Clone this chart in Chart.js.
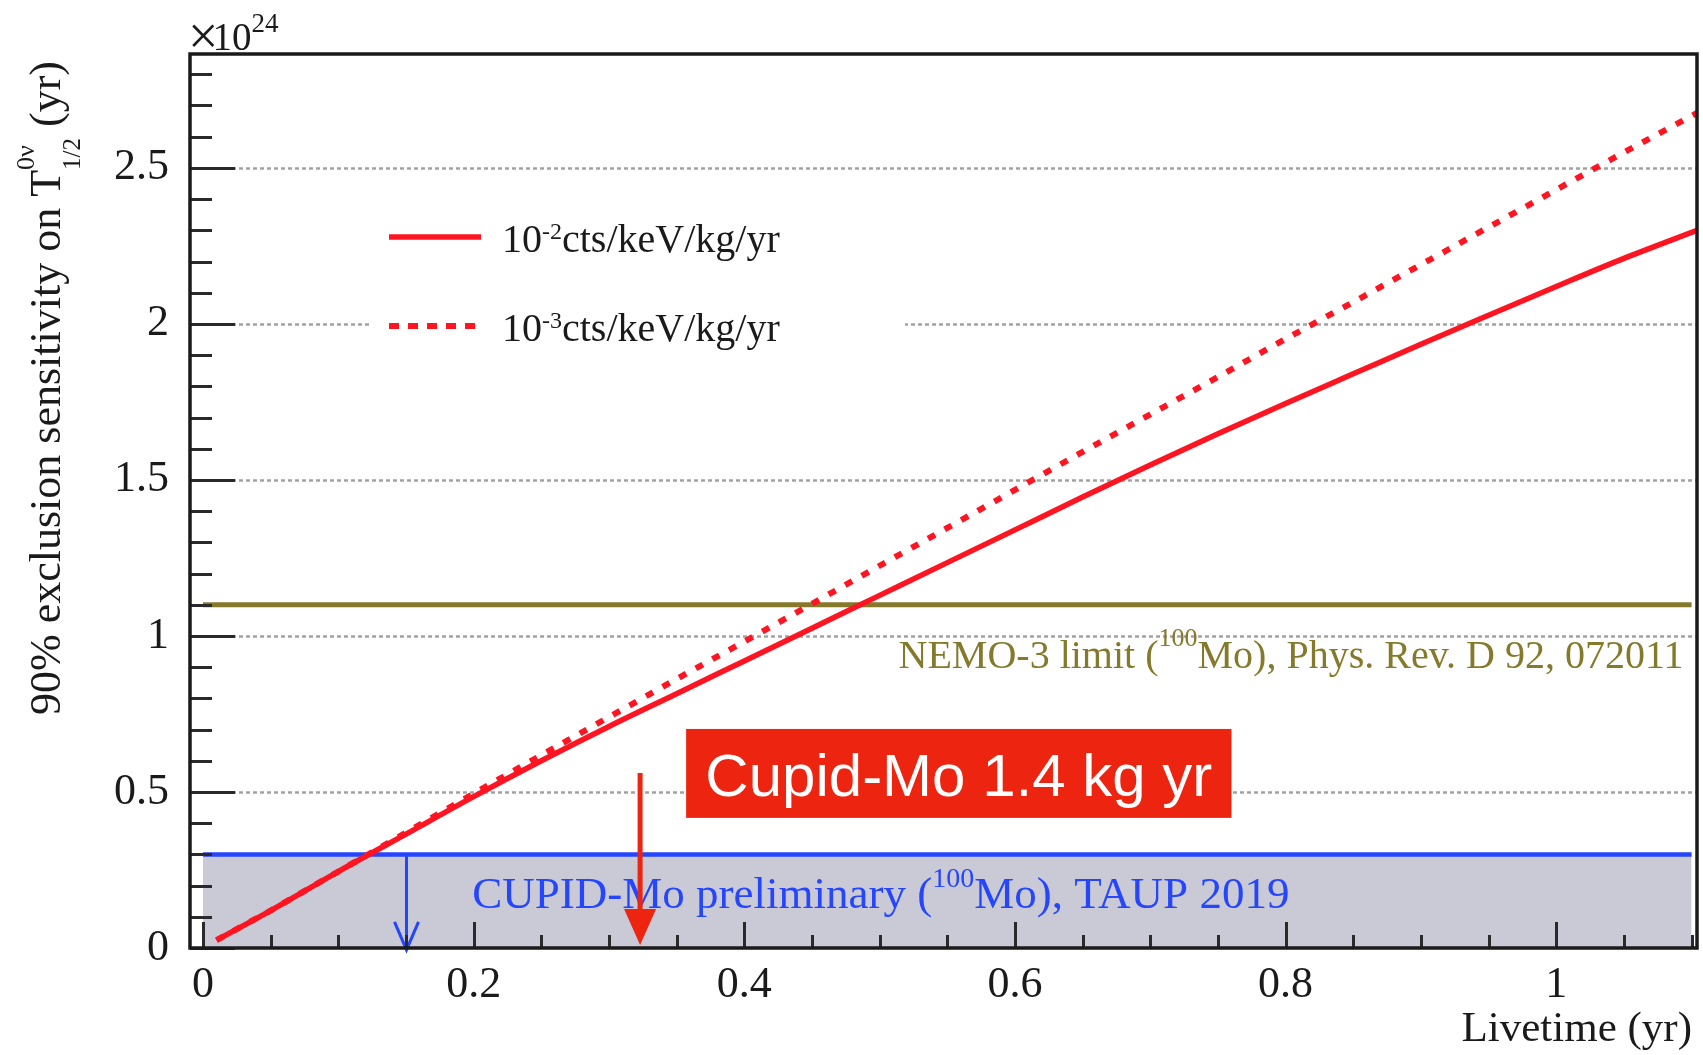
<!DOCTYPE html>
<html>
<head>
<meta charset="utf-8">
<script src="https://cdn.jsdelivr.net/npm/chart.js@4.4.0/dist/chart.umd.min.js"></script>
<style>
  html, body { margin: 0; padding: 0; background: #fff; overflow: hidden; }
  canvas { display: block; }
</style>
</head>
<body>
<canvas id="c" width="1703" height="1055"></canvas>
<script>
// Livetime (yr) and projected 90% C.L. half-life sensitivity (in units of 1e24 yr)
const livetime   = [0.01, 0.05, 0.10, 0.15, 0.20, 0.25, 0.30, 0.35, 0.40, 0.45, 0.50, 0.55,
                    0.60, 0.65, 0.70, 0.75, 0.80, 0.85, 0.90, 0.95, 1.00, 1.05, 1.104];
const sensBkgE2  = [0.025, 0.12, 0.245, 0.365, 0.485, 0.600, 0.710, 0.815, 0.920, 1.025, 1.130, 1.235,
                    1.340, 1.445, 1.548, 1.648, 1.745, 1.840, 1.935, 2.028, 2.120, 2.210, 2.300];
const sensBkgE3  = [0.025, 0.12, 0.245, 0.370, 0.495, 0.618, 0.740, 0.862, 0.982, 1.103, 1.225, 1.346,
                    1.468, 1.590, 1.710, 1.830, 1.952, 2.070, 2.190, 2.310, 2.430, 2.550, 2.676];

// Existing limits (1e24 yr) and the livetime span they are drawn over
const nemoLimit  = 1.1;
const cupidLimit = 0.3;
const limitSpan  = [0, 1.1];

// Axes
const xTickValues = [0, 0.2, 0.4, 0.6, 0.8, 1];
const yTickValues = [0, 0.5, 1, 1.5, 2, 2.5];
const xRange = [-0.0096, 1.104];
const yRange = [0, 2.865];

// Markers (livetime, yr)
const cupidArrowAt    = 0.15;
const exposureArrowAt = 0.323;

const SERIF = '"Liberation Serif", "Times New Roman", Times, serif';
const SANS  = '"Liberation Sans", Arial, Helvetica, sans-serif';
const RED   = '#ff1422';
const OLIVE = '#857a2b';
const BLUE  = '#2545ff';
const BAND  = '#c9cad5';
const INK   = '#1a1a1a';

const toXY = (xs, ys) => xs.map((x, i) => ({ x, y: ys[i] }));
const flat = (v) => limitSpan.map(x => ({ x, y: v }));

// ---- rich text helpers (super/subscripts) ----
function runWidth(ctx, r) {
  if (r.stack) return Math.max(...r.stack.map(s => runWidth(ctx, s)));
  ctx.font = `${r.size}px ${r.family || SERIF}`;
  return ctx.measureText(r.t).width + (r.kern || 0);
}
function drawRich(ctx, runs, x, y, align, color) {
  const total = runs.reduce((w, r) => w + runWidth(ctx, r), 0);
  let cx = align === 'right' ? x - total : align === 'center' ? x - total / 2 : x;
  ctx.fillStyle = color;
  ctx.textAlign = 'left';
  ctx.textBaseline = 'alphabetic';
  for (const r of runs) {
    for (const p of (r.stack || [r])) {
      ctx.font = `${p.size}px ${p.family || SERIF}`;
      ctx.fillText(p.t, cx, y + (p.dy || 0));
    }
    cx += runWidth(ctx, r);
  }
}

// ---- frame, ticks, grid, legend and annotations ----
const decorations = {
  id: 'decorations',
  beforeDatasetsDraw(chart) {
    const { ctx, chartArea: a, scales: { y } } = chart;
    ctx.save();
    ctx.strokeStyle = '#a2a2a2';
    ctx.lineWidth = 2.5;
    ctx.setLineDash([4, 3]);
    for (const t of y.ticks) {
      if (t.value === 0) continue;
      const py = Math.round(y.getPixelForValue(t.value)) + 0.5;
      ctx.beginPath(); ctx.moveTo(a.left, py); ctx.lineTo(a.right, py); ctx.stroke();
    }
    ctx.restore();
  },
  afterDatasetsDraw(chart) {
    const { ctx, chartArea: a, scales: { x, y } } = chart;
    const px = v => x.getPixelForValue(v);
    const py = v => y.getPixelForValue(v);
    ctx.save();

    // CUPID-Mo label inside the excluded band
    drawRich(ctx, [
      { t: 'CUPID-Mo preliminary (', size: 45 },
      { t: '100', size: 28, dy: -21 },
      { t: 'Mo), TAUP 2019', size: 45 }
    ], px(0.199), py(0.128), 'left', BLUE);

    // NEMO-3 label under its limit line
    drawRich(ctx, [
      { t: 'NEMO-3 limit (', size: 40 },
      { t: '100', size: 26, dy: -22 },
      { t: 'Mo), Phys. Rev. D 92, 072011', size: 40 }
    ], px(1.094), py(0.897), 'right', OLIVE);

    // downward arrow from the CUPID-Mo limit
    {
      const ax = Math.round(px(cupidArrowAt)) + 0.5, y0 = py(cupidLimit), y1 = py(-0.006);
      ctx.strokeStyle = BLUE; ctx.lineWidth = 3; ctx.setLineDash([]);
      ctx.beginPath(); ctx.moveTo(ax, y0); ctx.lineTo(ax, y1); ctx.stroke();
      ctx.beginPath(); ctx.moveTo(ax - 12, y1 - 28); ctx.lineTo(ax, y1); ctx.lineTo(ax + 12, y1 - 28); ctx.stroke();
    }

    // tick marks (inside the frame)
    ctx.strokeStyle = '#2a2a2a'; ctx.lineWidth = 3; ctx.setLineDash([]);
    const yMajor = yTickValues[1] - yTickValues[0];
    const yStep = yMajor / 5;
    for (let v = yRange[0]; v <= yRange[1] + 1e-9; v += yStep) {
      const major = Math.abs(v / yMajor - Math.round(v / yMajor)) < 1e-6;
      const yy = Math.round(py(v)) + 0.5;
      ctx.beginPath(); ctx.moveTo(a.left, yy); ctx.lineTo(a.left + (major ? 45 : 22), yy); ctx.stroke();
    }
    const xMajor = xTickValues[1] - xTickValues[0];
    const xStep = xMajor / 4;
    for (let v = 0; v <= xRange[1] + 1e-9; v += xStep) {
      const major = Math.abs(v / xMajor - Math.round(v / xMajor)) < 1e-6;
      const xx = Math.round(px(v)) + 0.5;
      ctx.beginPath(); ctx.moveTo(xx, a.bottom); ctx.lineTo(xx, a.bottom - (major ? 26 : 13)); ctx.stroke();
    }

    // frame
    ctx.strokeStyle = INK; ctx.lineWidth = 3.5;
    ctx.strokeRect(a.left, a.top, a.right - a.left, a.bottom - a.top);

    // legend
    ctx.fillStyle = '#fff';
    ctx.fillRect(a.left + 180, a.top + 136, 535, 176);
    chart.data.datasets.slice(0, 2).forEach((ds, i) => {
      const ly = [237, 326][i];
      ctx.strokeStyle = ds.borderColor;
      ctx.lineWidth = ds.borderWidth;
      ctx.setLineDash(i === 0 ? [] : [10, 9]);
      ctx.beginPath(); ctx.moveTo(a.left + 199, ly); ctx.lineTo(a.left + 291, ly); ctx.stroke();
      ctx.setLineDash([]);
      drawRich(ctx, [
        { t: '10', size: 40 },
        { t: ds.exponent, size: 24, dy: -13 },
        { t: 'cts/keV/kg/yr', size: 40 }
      ], a.left + 312, ly + 15, 'left', INK);
    });

    // exposure annotation
    {
      const bx0 = px(0.357), bx1 = px(0.760), by0 = py(0.702), by1 = py(0.417);
      ctx.fillStyle = '#ec2410';
      ctx.fillRect(bx0, by0, bx1 - bx0, by1 - by0);
      ctx.fillStyle = '#fff';
      ctx.font = `60px ${SANS}`;
      ctx.textAlign = 'center'; ctx.textBaseline = 'alphabetic';
      ctx.fillText('Cupid-Mo 1.4 kg yr', (bx0 + bx1) / 2, by1 - 22);

      const ax = px(exposureArrowAt), ay0 = py(0.561), ay1 = py(0.01);
      ctx.strokeStyle = '#ec2410'; ctx.lineWidth = 5;
      ctx.beginPath(); ctx.moveTo(ax, ay0); ctx.lineTo(ax, ay1 - 30); ctx.stroke();
      ctx.beginPath();
      ctx.moveTo(ax - 16, ay1 - 36); ctx.lineTo(ax + 16, ay1 - 36); ctx.lineTo(ax, ay1); ctx.closePath();
      ctx.fillStyle = '#ec2410'; ctx.fill();
    }

    // axis exponent
    drawRich(ctx, [
      { t: '\u00d7', size: 54, dy: 4, kern: -6 },
      { t: '10', size: 39 },
      { t: '24', size: 27, dy: -18 }
    ], a.left - 2, a.top - 4, 'left', INK);

    // y-axis title
    ctx.save();
    ctx.translate(60, 388);
    ctx.rotate(-Math.PI / 2);
    drawRich(ctx, [
      { t: '90% exclusion sensitivity on T', size: 44 },
      { stack: [{ t: '0\u03bd', size: 26, dy: -26 }, { t: '1/2', size: 25, dy: 20 }] },
      { t: ' (yr)', size: 44 }
    ], 0, 0, 'center', INK);
    ctx.restore();

    // x-axis title
    drawRich(ctx, [{ t: 'Livetime (yr)', size: 43 }], 1692, 1041, 'right', INK);

    ctx.restore();
  }
};

new Chart(document.getElementById('c'), {
  type: 'line',
  data: {
    datasets: [
      { label: '1e-2 cts/keV/kg/yr', exponent: '-2', data: toXY(livetime, sensBkgE2),
        borderColor: RED, borderWidth: 5.5, pointRadius: 0, fill: false, order: 1,
        cubicInterpolationMode: 'monotone' },
      { label: '1e-3 cts/keV/kg/yr', exponent: '-3', data: toXY(livetime, sensBkgE3),
        borderColor: RED, borderWidth: 6, borderDash: [8, 11], pointRadius: 0, fill: false, order: 0 },
      { label: 'NEMO-3', data: flat(nemoLimit),
        borderColor: OLIVE, borderWidth: 5, pointRadius: 0, fill: false, order: 2 },
      { label: 'CUPID-Mo', data: flat(cupidLimit),
        borderColor: BLUE, borderWidth: 4.5, pointRadius: 0, fill: 'origin', backgroundColor: BAND, order: 3 }
    ]
  },
  options: {
    responsive: false,
    animation: false,
    devicePixelRatio: 1,
    layout: { padding: { top: 54, right: 6, left: 0, bottom: 0 } },
    plugins: { legend: { display: false }, tooltip: { enabled: false } },
    elements: { line: { tension: 0, borderCapStyle: 'butt' } },
    scales: {
      x: {
        type: 'linear', min: xRange[0], max: xRange[1],
        afterFit: s => { s.height = 107; },
        afterBuildTicks: s => { s.ticks = xTickValues.map(v => ({ value: v })); },
        grid: { display: false, drawTicks: false },
        border: { display: false },
        ticks: { autoSkip: false, maxRotation: 0, padding: 11, color: INK,
                 font: { family: SERIF, size: 44 }, callback: v => String(v) }
      },
      y: {
        type: 'linear', min: yRange[0], max: yRange[1],
        afterFit: s => { s.width = 190; },
        afterBuildTicks: s => { s.ticks = yTickValues.map(v => ({ value: v })); },
        grid: { display: false, drawTicks: false },
        border: { display: false },
        ticks: { autoSkip: false, padding: 21, color: INK,
                 font: { family: SERIF, size: 44 }, callback: v => String(v) }
      }
    }
  },
  plugins: [decorations]
});
</script>
</body>
</html>
